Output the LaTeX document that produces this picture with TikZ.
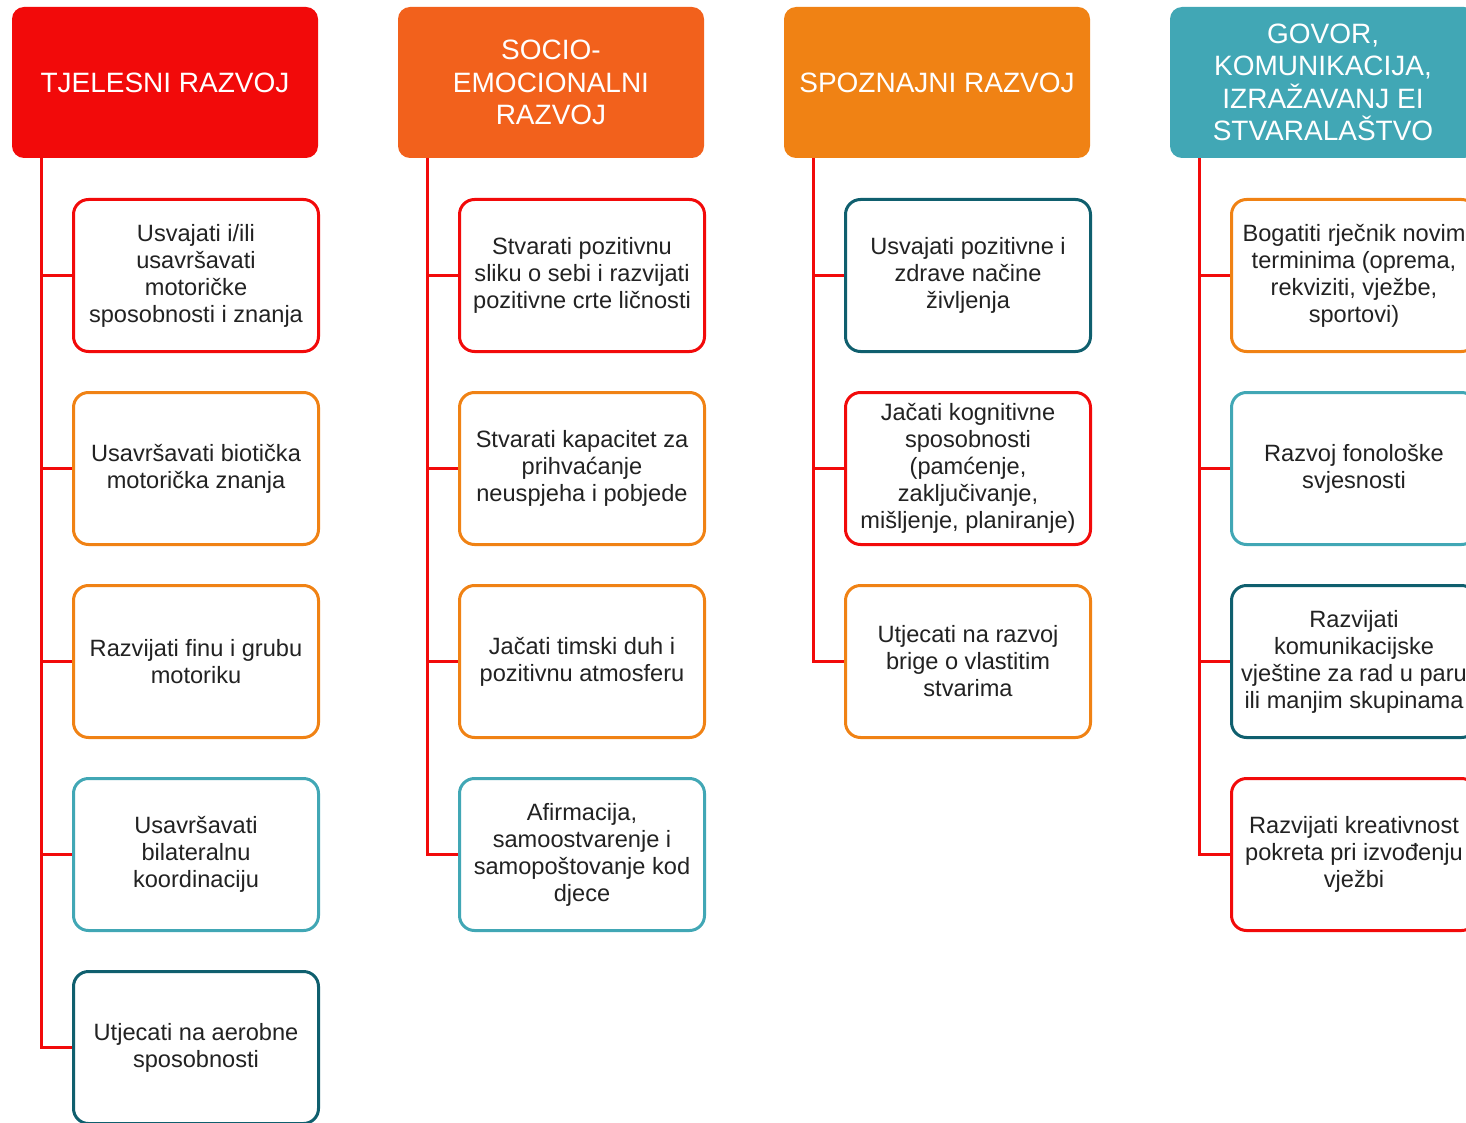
\documentclass[tikz,border=0pt]{standalone}
\usepackage{fontspec}
\setmainfont{Liberation Sans}
\definecolor{cred}{HTML}{F20A0A}
\definecolor{cored}{HTML}{F2611C}
\definecolor{corange}{HTML}{F08214}
\definecolor{cteal}{HTML}{41A7B5}
\definecolor{cdark}{HTML}{0F5F6E}
\definecolor{ctext}{HTML}{222222}
\begin{document}
\begin{tikzpicture}[x=1pt,y=-1pt,
  header/.style={rounded corners=12pt, minimum width=306pt, minimum height=151pt, inner sep=0pt,
    text=white, align=center, font=\fontsize{28}{32.5}\selectfont},
  item/.style={draw=#1, line width=3pt, rounded corners=15pt, minimum width=245pt, minimum height=152pt,
    inner sep=0pt, fill=white, text=ctext, align=center, font=\fontsize{23.6}{27}\selectfont},
  conn/.style={draw=cred, line width=3pt}]
\useasboundingbox (0,0) rectangle (1466,1123);
\clip (0,0) rectangle (1466,1123);

% headers
\node[header, fill=cred] (h1) at (165,82.5) {TJELESNI RAZVOJ};
\node[header, fill=cored] (h2) at (551,82.5) {SOCIO-\\EMOCIONALNI\\RAZVOJ};
\node[header, fill=corange] (h3) at (937,82.5) {SPOZNAJNI RAZVOJ};
\node[header, fill=cteal] (h4) at (1323,82.5) {GOVOR,\\KOMUNIKACIJA,\\IZRAŽAVANJ EI\\STVARALAŠTVO};

% column 1
\node[item=cred] (a1) at (196,275.5) {Usvajati i/ili\\usavršavati\\motoričke\\sposobnosti i znanja};
\node[item=corange] (a2) at (196,468.5) {Usavršavati biotička\\motorička znanja};
\node[item=corange] (a3) at (196,661.5) {Razvijati finu i grubu\\motoriku};
\node[item=cteal] (a4) at (196,854.5) {Usavršavati\\bilateralnu\\koordinaciju};
\node[item=cdark] (a5) at (196,1047.5) {Utjecati na aerobne\\sposobnosti};

% column 2
\node[item=cred] (b1) at (582,275.5) {Stvarati pozitivnu\\sliku o sebi i razvijati\\pozitivne crte ličnosti};
\node[item=corange] (b2) at (582,468.5) {Stvarati kapacitet za\\prihvaćanje\\neuspjeha i pobjede};
\node[item=corange] (b3) at (582,661.5) {Jačati timski duh i\\pozitivnu atmosferu};
\node[item=cteal] (b4) at (582,854.5) {Afirmacija,\\samoostvarenje i\\samopoštovanje kod\\djece};

% column 3
\node[item=cdark] (c1) at (968,275.5) {Usvajati pozitivne i\\zdrave načine\\življenja};
\node[item=cred] (c2) at (968,468.5) {Jačati kognitivne\\sposobnosti\\(pamćenje,\\zaključivanje,\\mišljenje, planiranje)};
\node[item=corange] (c3) at (968,661.5) {Utjecati na razvoj\\brige o vlastitim\\stvarima};

% column 4
\node[item=corange] (d1) at (1354,275.5) {Bogatiti rječnik novim\\terminima (oprema,\\rekviziti, vježbe,\\sportovi)};
\node[item=cteal] (d2) at (1354,468.5) {Razvoj fonološke\\svjesnosti};
\node[item=cdark] (d3) at (1354,661.5) {Razvijati\\komunikacijske\\vještine za rad u paru\\ili manjim skupinama};
\node[item=cred] (d4) at (1354,854.5) {Razvijati kreativnost\\pokreta pri izvođenju\\vježbi};

% connectors
\foreach \h/\list in {h1/{a1,a2,a3,a4,a5}, h2/{b1,b2,b3,b4}, h3/{c1,c2,c3}, h4/{d1,d2,d3,d4}}{
  \foreach \b in \list {
    \draw[conn] ([xshift=30pt]\h.south west) |- (\b.west);
  }
}
\end{tikzpicture}
\end{document}
